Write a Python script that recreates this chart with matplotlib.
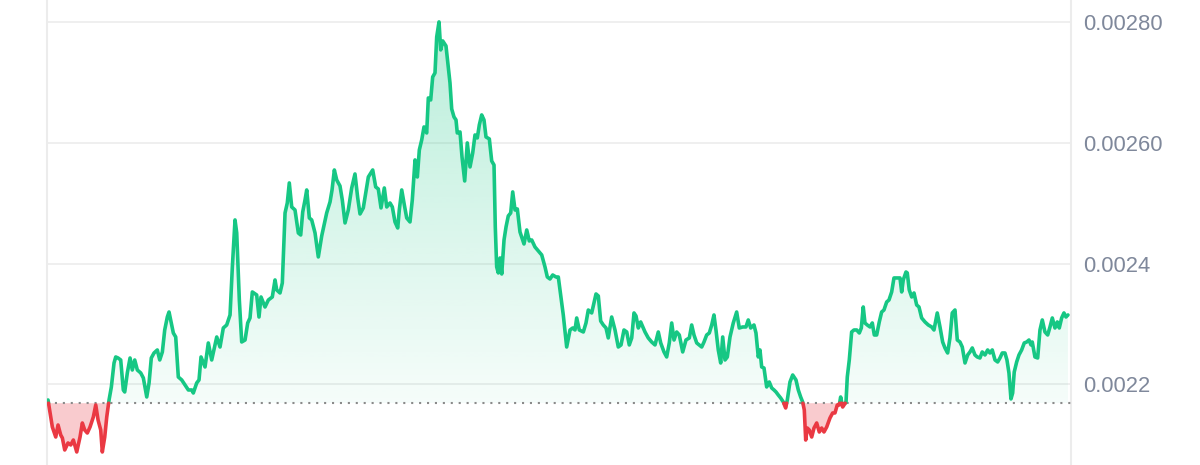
"""
Price chart, 7 days - green above the opening price, red below
"""

import numpy as np
import matplotlib
matplotlib.use("Agg")
import matplotlib.pyplot as plt
from matplotlib.path import Path
from matplotlib.patches import PathPatch

plt.rcParams["font.family"] = ["Liberation Sans", "DejaVu Sans"]

GREEN = "#16c784"
RED = "#ea3943"
GRID = "#efefef"
LABEL = "#7f889b"

# opening price (dotted reference line)
BASE_PRICE = 0.0021690

Y_TICKS = [0.0022, 0.0024, 0.0026, 0.0028]
Y_TICK_LABELS = ["0.0022", "0.0024", "0.00260", "0.00280"]

# hours since start of the window
hours = [
    0.00, 0.44, 0.71, 1.27, 1.65, 2.09, 2.36, 2.75, 3.29, 3.74,
    4.17, 4.73, 5.27, 5.65, 6.04, 6.47, 6.92, 7.46, 7.86, 8.24,
    8.68, 8.94, 9.34, 9.67, 10.05, 10.43, 10.87, 11.15, 11.53, 11.97,
    12.40, 12.63, 13.06, 13.51, 13.88, 14.28, 14.71, 15.27, 15.70, 16.26,
    16.64, 17.01, 17.46, 18.00, 18.40, 18.83, 19.22, 19.65, 19.93, 20.31,
    20.64, 21.03, 21.46, 22.02, 22.56, 23.11, 23.67, 23.93, 24.49, 24.87,
    25.20, 25.86, 26.40, 26.96, 27.79, 28.33, 28.87, 29.43, 29.98, 30.36,
    30.80, 31.08, 31.51, 31.90, 32.45, 32.89, 33.27, 33.65, 34.37, 34.75,
    35.08, 35.74, 36.29, 36.94, 37.39, 37.67, 38.21, 38.59, 39.04, 39.41,
    39.74, 40.14, 40.68, 41.23, 41.62, 41.95, 42.33, 42.61, 43.04, 43.43,
    43.98, 44.52, 45.08, 45.90, 46.45, 46.78, 47.16, 47.55, 48.09, 48.47,
    48.92, 49.46, 50.02, 50.56, 51.01, 51.39, 51.93, 52.33, 52.76, 53.48,
    53.97, 54.40, 54.85, 55.39, 55.79, 56.33, 56.71, 57.15, 57.60, 57.86,
    58.26, 58.69, 59.08, 59.62, 60.00, 60.45, 60.83, 61.16, 61.55, 61.93,
    62.37, 62.64, 63.03, 63.36, 63.74, 64.02, 64.40, 64.68, 65.01, 65.55,
    65.93, 66.21, 66.49, 66.87, 67.20, 67.41, 67.86, 68.19, 68.63, 69.06,
    69.51, 69.95, 70.33, 70.71, 71.04, 71.43, 71.81, 72.14, 72.69, 73.08,
    73.46, 73.67, 73.90, 74.17, 74.45, 74.73, 75.11, 75.44, 75.81, 76.21,
    76.54, 76.92, 77.30, 77.74, 78.40, 78.85, 79.27, 79.67, 80.21, 80.76,
    81.32, 81.86, 82.24, 82.68, 83.13, 83.67, 84.05, 84.44, 84.87, 85.43,
    85.98, 86.42, 86.80, 87.08, 87.51, 88.17, 88.61, 88.99, 89.55, 90.26,
    90.64, 91.03, 91.46, 91.91, 92.28, 92.84, 93.39, 93.93, 94.38, 94.87,
    95.32, 95.74, 96.14, 96.52, 96.85, 97.23, 97.62, 98.33, 98.87, 99.43,
    99.98, 100.52, 100.92, 101.46, 101.90, 102.33, 102.73, 103.11, 103.55, 103.98,
    104.54, 105.08, 105.63, 106.02, 106.40, 106.85, 107.67, 108.05, 108.49, 108.92,
    109.32, 109.69, 110.02, 110.40, 110.80, 111.13, 111.51, 111.89, 112.33, 112.87,
    113.43, 113.86, 114.42, 114.96, 115.34, 115.74, 116.28, 116.61, 116.99, 117.27,
    117.55, 117.93, 118.37, 118.80, 119.20, 119.58, 119.91, 120.28, 120.68, 121.11,
    121.50, 121.77, 122.21, 122.66, 123.20, 123.58, 123.97, 124.30, 124.57, 124.80,
    125.06, 125.39, 125.79, 126.17, 126.61, 127.04, 127.43, 127.81, 128.26, 128.80,
    129.24, 129.62, 130.00, 130.33, 130.56, 130.89, 131.11, 131.44, 131.65, 131.98,
    132.37, 132.75, 133.20, 133.63, 133.96, 134.28, 134.56, 134.94, 135.39, 135.77,
    136.10, 136.49, 136.92, 137.31, 137.69, 138.14, 138.52, 138.96, 139.34, 139.79,
    140.33, 140.61, 140.87, 141.32, 141.53, 141.86, 142.26, 142.64, 143.08, 143.46,
    143.90, 144.45, 144.99, 145.55, 145.93, 146.47, 146.92, 147.36, 147.74, 148.18,
    148.56, 148.94, 149.39, 149.77, 150.21, 150.59, 151.04, 151.48, 151.86, 152.24,
    152.68, 153.06, 153.50, 153.88, 154.33, 154.77, 155.15, 155.53, 155.98, 156.42,
    156.80, 157.18, 157.62, 157.95, 158.28, 158.61, 158.89, 159.15, 159.55, 159.93,
    160.37, 160.80, 161.20, 161.58, 161.91, 162.12, 162.56, 163.01, 163.39, 163.77,
    164.21, 164.66, 165.04, 165.42, 165.86, 166.24, 166.57, 166.96, 167.34, 167.67,
    168.00,
]

price = [
    0.0021743, 0.0021461, 0.0021296, 0.0021130, 0.0021329, 0.0021163, 0.0021114, 0.0020915, 0.0021031, 0.0020998,
    0.0021080, 0.0020882, 0.0021130, 0.0021362, 0.0021246, 0.0021196, 0.0021296, 0.0021461, 0.0021660, 0.0021412,
    0.0021246, 0.0020882, 0.0021130, 0.0021461, 0.0021743, 0.0021959, 0.0022356, 0.0022456, 0.0022439, 0.0022406,
    0.0021909, 0.0021876, 0.0022191, 0.0022439, 0.0022240, 0.0022406, 0.0022240, 0.0022191, 0.0022108, 0.0021793,
    0.0022025, 0.0022439, 0.0022522, 0.0022572, 0.0022406, 0.0022539, 0.0022903, 0.0023118, 0.0023201, 0.0023019,
    0.0022853, 0.0022787, 0.0022124, 0.0022075, 0.0021992, 0.0021909, 0.0021909, 0.0021859, 0.0022025, 0.0022075,
    0.0022456, 0.0022290, 0.0022688, 0.0022406, 0.0022787, 0.0022621, 0.0022936, 0.0022986, 0.0023152, 0.0023947,
    0.0024726, 0.0024510, 0.0023400, 0.0022704, 0.0022737, 0.0023019, 0.0023102, 0.0023533, 0.0023483, 0.0023118,
    0.0023450, 0.0023284, 0.0023400, 0.0023450, 0.0023732, 0.0023566, 0.0023516, 0.0023682, 0.0024842, 0.0025007,
    0.0025339, 0.0024941, 0.0024891, 0.0024510, 0.0024477, 0.0024858, 0.0025057, 0.0025223, 0.0024759, 0.0024726,
    0.0024510, 0.0024113, 0.0024461, 0.0024842, 0.0025024, 0.0025223, 0.0025554, 0.0025389, 0.0025289, 0.0025057,
    0.0024676, 0.0024891, 0.0025256, 0.0025488, 0.0025090, 0.0024825, 0.0024925, 0.0025173, 0.0025438, 0.0025554,
    0.0025273, 0.0025239, 0.0024925, 0.0025256, 0.0024941, 0.0025007, 0.0024941, 0.0024693, 0.0024593, 0.0024891,
    0.0025223, 0.0024974, 0.0024759, 0.0024693, 0.0025057, 0.0025720, 0.0025438, 0.0025886, 0.0026051, 0.0026267,
    0.0026167, 0.0026747, 0.0026714, 0.0027095, 0.0027162, 0.0027758, 0.0028007, 0.0027543, 0.0027692, 0.0027609,
    0.0027261, 0.0026996, 0.0026565, 0.0026432, 0.0026383, 0.0026167, 0.0026184, 0.0025770, 0.0025372, 0.0026002,
    0.0025604, 0.0025836, 0.0026134, 0.0026085, 0.0026300, 0.0026466, 0.0026383, 0.0026101, 0.0026068, 0.0025703,
    0.0025637, 0.0024610, 0.0023947, 0.0023848, 0.0024096, 0.0023831, 0.0024394, 0.0024610, 0.0024792, 0.0024842,
    0.0025190, 0.0024891, 0.0024908, 0.0024527, 0.0024328, 0.0024560, 0.0024378, 0.0024394, 0.0024278, 0.0024212,
    0.0024146, 0.0023947, 0.0023781, 0.0023748, 0.0023814, 0.0023781, 0.0023781, 0.0023483, 0.0023152, 0.0022621,
    0.0022903, 0.0022936, 0.0022903, 0.0023102, 0.0022903, 0.0022870, 0.0023019, 0.0023234, 0.0023185, 0.0023500,
    0.0023466, 0.0023052, 0.0022986, 0.0022936, 0.0022771, 0.0023118, 0.0022903, 0.0022621, 0.0022655, 0.0022903,
    0.0022870, 0.0022655, 0.0022771, 0.0023185, 0.0023135, 0.0022936, 0.0023036, 0.0022870, 0.0022771, 0.0022704,
    0.0022655, 0.0022870, 0.0022688, 0.0022539, 0.0022456, 0.0022688, 0.0023019, 0.0022737, 0.0022870, 0.0022820,
    0.0022539, 0.0022737, 0.0022771, 0.0022986, 0.0022820, 0.0022688, 0.0022621, 0.0022704, 0.0022820, 0.0022853,
    0.0022986, 0.0023152, 0.0022903, 0.0022572, 0.0022356, 0.0022787, 0.0022406, 0.0022456, 0.0022787, 0.0023019,
    0.0023201, 0.0022936, 0.0022953, 0.0022953, 0.0023069, 0.0022936, 0.0022986, 0.0022853, 0.0022456, 0.0022572,
    0.0022290, 0.0022273, 0.0021959, 0.0022041, 0.0021942, 0.0021909, 0.0021876, 0.0021826, 0.0021776, 0.0021710,
    0.0021611, 0.0021743, 0.0022041, 0.0022157, 0.0022075, 0.0021909, 0.0021793, 0.0021710, 0.0021577, 0.0021080,
    0.0021279, 0.0021246, 0.0021130, 0.0021279, 0.0021362, 0.0021213, 0.0021279, 0.0021213, 0.0021296, 0.0021445,
    0.0021528, 0.0021528, 0.0021660, 0.0021660, 0.0021793, 0.0021627, 0.0021660, 0.0021710, 0.0022124, 0.0022406,
    0.0022870, 0.0022903, 0.0022903, 0.0022853, 0.0022936, 0.0023284, 0.0023019, 0.0022986, 0.0022953, 0.0023019,
    0.0022820, 0.0022820, 0.0023036, 0.0023201, 0.0023234, 0.0023367, 0.0023400, 0.0023533, 0.0023765, 0.0023765,
    0.0023765, 0.0023533, 0.0023732, 0.0023864, 0.0023848, 0.0023566, 0.0023450, 0.0023516, 0.0023317, 0.0023284,
    0.0023102, 0.0023036, 0.0022986, 0.0022953, 0.0022903, 0.0023185, 0.0022953, 0.0022704, 0.0022605, 0.0022522,
    0.0022771, 0.0023185, 0.0023234, 0.0022737, 0.0022704, 0.0022621, 0.0022356, 0.0022489, 0.0022539, 0.0022605,
    0.0022489, 0.0022456, 0.0022439, 0.0022539, 0.0022489, 0.0022572, 0.0022522, 0.0022572, 0.0022406, 0.0022373,
    0.0022439, 0.0022522, 0.0022522, 0.0022406, 0.0022191, 0.0021760, 0.0021859, 0.0022207, 0.0022373, 0.0022489,
    0.0022572, 0.0022688, 0.0022704, 0.0022737, 0.0022655, 0.0022704, 0.0022456, 0.0022439, 0.0022903, 0.0023069,
    0.0022870, 0.0022820, 0.0022953, 0.0023102, 0.0022936, 0.0023036, 0.0022936, 0.0023102, 0.0023185, 0.0023118,
    0.0023152,
]

# ------------------------------------------------------------
# split the line where it crosses the opening price
# ------------------------------------------------------------
t = np.array(hours)
p = np.array(price)
ts, ps = [t[0]], [p[0]]
for i in range(1, len(t)):
    if (p[i - 1] - BASE_PRICE) * (p[i] - BASE_PRICE) < 0:
        f = (BASE_PRICE - p[i - 1]) / (p[i] - p[i - 1])
        ts.append(t[i - 1] + f * (t[i] - t[i - 1]))
        ps.append(BASE_PRICE)
    ts.append(t[i])
    ps.append(p[i])
ts = np.array(ts)
ps = np.array(ps)
up = np.where(ps >= BASE_PRICE, ps, np.nan)
down = np.where(ps <= BASE_PRICE, ps, np.nan)

fig = plt.figure(figsize=(12, 4.65), dpi=100)
ax = fig.add_axes([47 / 1200, 0, 1024 / 1200, 1])

# green area with vertical gradient
coll = ax.fill_between(ts, ps, BASE_PRICE, where=ps >= BASE_PRICE, interpolate=True,
                       facecolor="none", edgecolor="none")
clip = PathPatch(Path.make_compound_path(*coll.get_paths()), transform=ax.transData,
                 facecolor="none", edgecolor="none")
ax.add_patch(clip)
rgba = np.zeros((256, 1, 4))
rgba[..., :3] = matplotlib.colors.to_rgb(GREEN)
rgba[:, 0, 3] = np.linspace(0.04, 0.30, 256)
im = ax.imshow(rgba, extent=[t[0], t[-1], BASE_PRICE, p.max()], origin="lower",
               aspect="auto", zorder=2, interpolation="bilinear")
im.set_clip_path(clip)

# red area below the opening price
ax.fill_between(ts, ps, BASE_PRICE, where=ps <= BASE_PRICE, interpolate=True,
                facecolor=RED, alpha=0.26, edgecolor="none", zorder=2)

ax.axhline(BASE_PRICE, color="#8a8a8a", lw=1.5, linestyle=(0, (1, 2.8)), zorder=3)

ax.plot(ts, up, color=GREEN, lw=2.6, solid_joinstyle="round", solid_capstyle="round", zorder=4)
ax.plot(ts, down, color=RED, lw=2.6, solid_joinstyle="round", solid_capstyle="round", zorder=4)

ax.set_xlim(-0.17, 168.5)
ax.set_ylim(0.0020666, 0.0028370)

ax.yaxis.tick_right()
ax.set_yticks(Y_TICKS)
ax.set_yticklabels(Y_TICK_LABELS)
ax.tick_params(axis="y", length=0, pad=8.5, labelsize=15.8, labelcolor=LABEL)
ax.set_xticks([])
ax.grid(axis="y", color=GRID, lw=1.4, zorder=0)
ax.set_axisbelow(True)

for side in ["top", "bottom"]:
    ax.spines[side].set_visible(False)
for side in ["left", "right"]:
    ax.spines[side].set_color("#ececec")
    ax.spines[side].set_linewidth(1.5)

fig.savefig("out.png", dpi=100)
plt.close()
